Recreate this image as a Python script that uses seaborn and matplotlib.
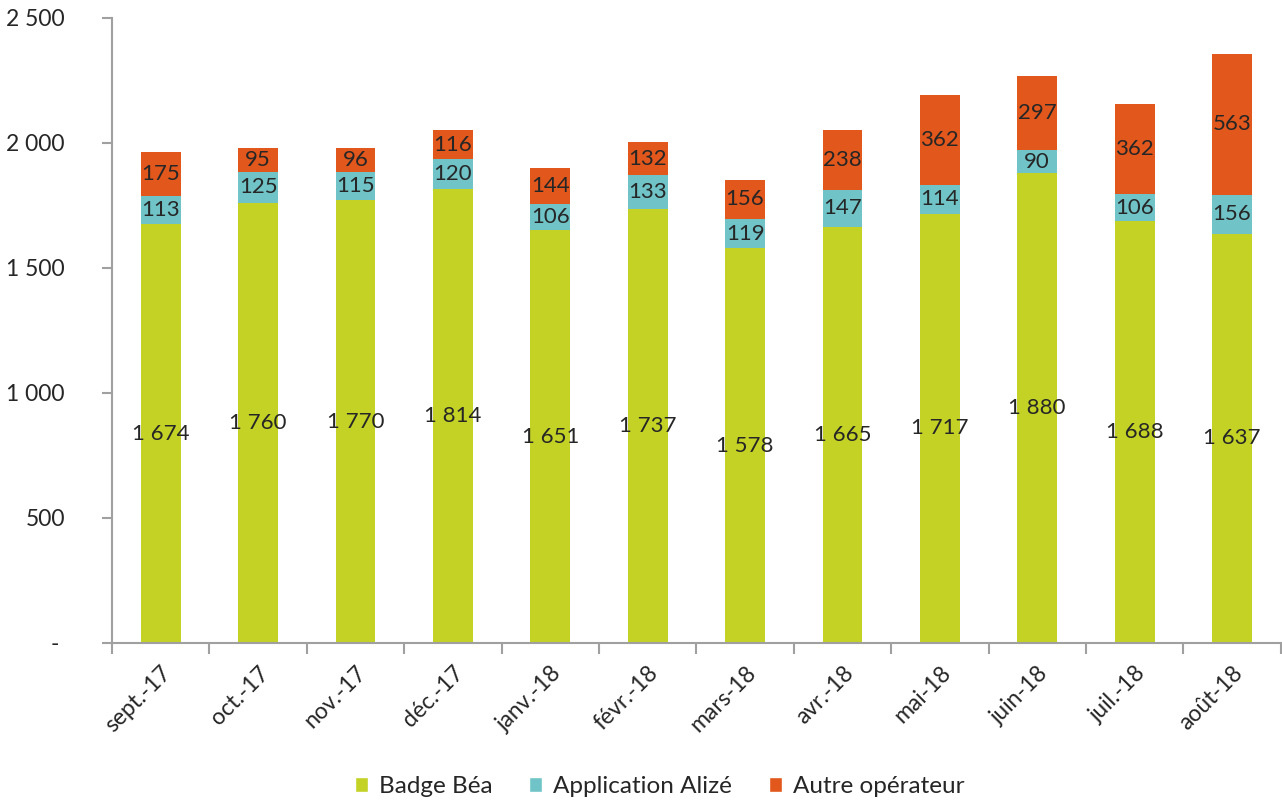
import numpy as np
import pandas as pd
import matplotlib
matplotlib.use("Agg")
import matplotlib.pyplot as plt
import seaborn as sns
from matplotlib.patches import Patch
from matplotlib.ticker import FuncFormatter, FixedLocator

months = ["sept.-17", "oct.-17", "nov.-17", "déc.-17", "janv.-18", "févr.-18",
          "mars-18", "avr.-18", "mai-18", "juin-18", "juil.-18", "août-18"]
badge = [1674, 1760, 1770, 1814, 1651, 1737, 1578, 1665, 1717, 1880, 1688, 1637]
alize = [113, 125, 115, 120, 106, 133, 119, 147, 114, 90, 106, 156]
autre = [175, 95, 96, 116, 144, 132, 156, 238, 362, 297, 362, 563]
series_names = ["Badge Béa", "Application Alizé", "Autre opérateur"]
colors = ["#C3D225", "#70C4C7", "#E2571B"]
yticks = [0, 500, 1000, 1500, 2000, 2500]

sns.set_style("white")
plt.rcParams["font.family"] = ["Lato", "DejaVu Sans"]

df = pd.DataFrame({"month": months, "badge": badge, "alize": alize, "autre": autre})
df["c1"] = df["badge"]
df["c2"] = df["badge"] + df["alize"]
df["c3"] = df["c2"] + df["autre"]

fig = plt.figure(figsize=(12.82, 8.02), dpi=100)
ax = fig.add_axes([0.0874, 0.1983, 0.9126 - 0.001, 0.7793])

for col, c in zip(["c3", "c2", "c1"], colors[::-1]):
    sns.barplot(data=df, x="month", y=col, color=c, width=0.41, ax=ax,
                saturation=1, linewidth=0, order=months)

fs = 16
for i in range(len(months)):
    ax.text(i, badge[i] / 2, f"{badge[i]:,}".replace(",", " "), ha="center", va="center", fontsize=fs)
    ax.text(i, badge[i] + alize[i] / 2, str(alize[i]), ha="center", va="center", fontsize=fs)
    ax.text(i, badge[i] + alize[i] + autre[i] / 2, str(autre[i]), ha="center", va="center", fontsize=fs)

ax.set_xlim(-0.5, len(months) - 0.5)
ax.set_ylim(0, 2500)
ax.set_yticks(yticks)
ax.yaxis.set_major_formatter(FuncFormatter(lambda v, p: "- " if v == 0 else f"{int(v):,}".replace(",", " ")))
ax.set_xlabel("")
ax.set_ylabel("")
ax.set_xticks(range(len(months)))
ax.set_xticklabels(months, rotation=45, ha="right", rotation_mode="anchor", fontsize=16.5)
ax.xaxis.set_minor_locator(FixedLocator(np.arange(-0.5, len(months), 1.0)))
ax.tick_params(axis="x", which="major", length=0, pad=14)
ax.tick_params(axis="x", which="minor", length=8, width=1.5, color="#A0A0A0", bottom=True)
ax.tick_params(axis="y", which="major", length=7, width=1.5, color="#A0A0A0", left=True,
               labelsize=16.5, pad=27)

for s in ["top", "right"]:
    ax.spines[s].set_visible(False)
for s in ["left", "bottom"]:
    ax.spines[s].set_color("#A0A0A0")
    ax.spines[s].set_linewidth(1.5)
ax.grid(False)

handles = [Patch(facecolor=c, label=n) for c, n in zip(colors, series_names)]
fig.legend(handles=handles, loc="center", bbox_to_anchor=(0.5144, 0.019), ncol=3, frameon=False,
           fontsize=17.5, handlelength=0.55, handleheight=0.55, handletextpad=0.45, columnspacing=1.5)

fig.savefig("out.png", dpi=100)
